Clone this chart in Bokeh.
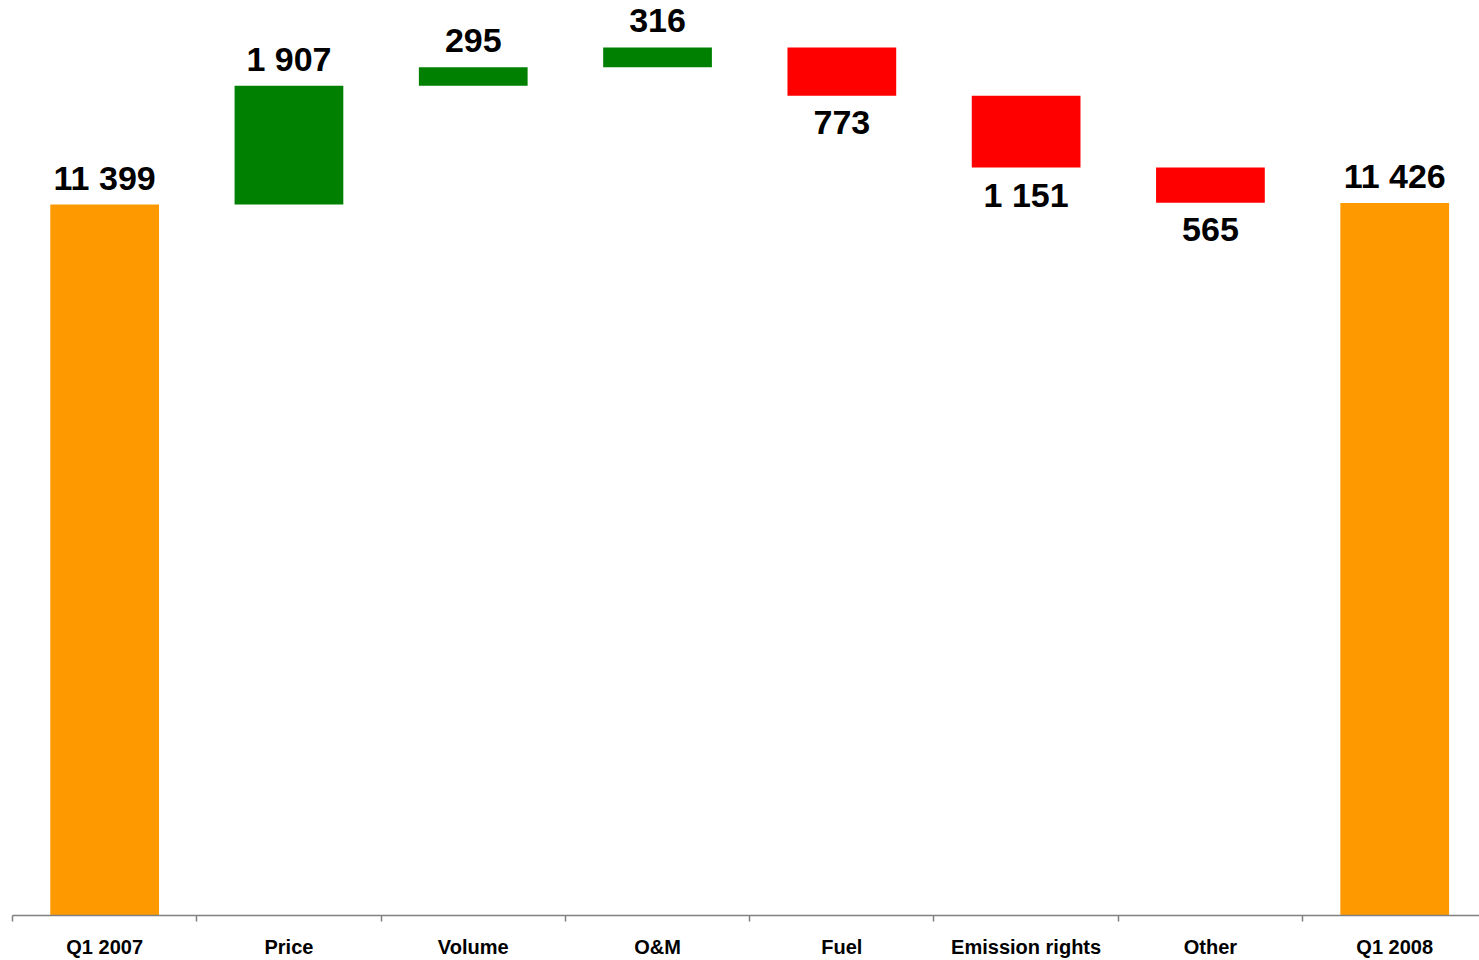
from bokeh.plotting import figure
from bokeh.models import ColumnDataSource, Range1d, FixedTicker
from bokeh.core.properties import value
from bokeh.embed import file_html
from bokeh.resources import INLINE

categories = ["Q1 2007", "Price", "Volume", "O&M", "Fuel", "Emission rights", "Other", "Q1 2008"]
changes = [11399, 1907, 295, 316, -773, -1151, -565, 11426]
kinds = ["total", "delta", "delta", "delta", "delta", "delta", "delta", "total"]
value_labels = ["11 399", "1 907", "295", "316", "773", "1 151", "565", "11 426"]

COL_TOTAL = "#FF9900"
COL_UP = "#008000"
COL_DOWN = "#FF0000"

xs, bottoms, tops, colors = [], [], [], []
pos_x, pos_y, pos_t = [], [], []
neg_x, neg_y, neg_t = [], [], []
running = 0
for i, (c, v, k, lab) in enumerate(zip(categories, changes, kinds, value_labels)):
    x = i + 0.5
    if k == "total":
        b, t = 0, v
        running = v
        col = COL_TOTAL
    else:
        b, t = running, running + v
        running = t
        col = COL_UP if v > 0 else COL_DOWN
    xs.append(x)
    bottoms.append(min(b, t))
    tops.append(max(b, t))
    colors.append(col)
    if k == "total" or v > 0:
        pos_x.append(x); pos_y.append(max(b, t)); pos_t.append(lab)
    else:
        neg_x.append(x); neg_y.append(min(b, t)); neg_t.append(lab)

src = ColumnDataSource(dict(x=xs, bottom=bottoms, top=tops, color=colors))

p = figure(width=1479, height=960, output_backend="svg", toolbar_location=None,
           x_range=Range1d(0, 7.96), y_range=Range1d(0, 14671),
           min_border_left=12, min_border_right=0, min_border_top=0, min_border_bottom=0,
           y_axis_location=None)
p.outline_line_color = None
p.xgrid.visible = False
p.ygrid.visible = False
p.background_fill_color = "white"
p.border_fill_color = "white"

p.vbar(x="x", bottom="bottom", top="top", width=0.59, color="color", line_color=None, source=src)

FONT = "Liberation Sans"
p.text(x=pos_x, y=pos_y, text=pos_t, text_align="center", text_baseline="alphabetic",
       y_offset=-27, text_font=value(FONT), text_font_style="bold",
       text_font_size="34px", text_color="black")
p.text(x=neg_x, y=neg_y, text=neg_t, text_align="center", text_baseline="alphabetic",
       y_offset=27, text_font=value(FONT), text_font_style="bold",
       text_font_size="34px", text_color="black")

ax = p.xaxis[0]
ax.ticker = FixedTicker(ticks=xs, minor_ticks=list(range(len(categories) + 1)))
ax.major_label_overrides = {x: c for x, c in zip(xs, categories)}
ax.axis_line_color = "#808080"
ax.axis_line_width = 1.5
ax.major_tick_line_color = None
ax.major_tick_out = 0
ax.major_tick_in = 0
ax.minor_tick_line_color = "#808080"
ax.minor_tick_line_width = 1.5
ax.minor_tick_out = 6
ax.minor_tick_in = 0
ax.major_label_standoff = 14
ax.major_label_text_font = FONT
ax.major_label_text_font_style = "bold"
ax.major_label_text_font_size = "20px"
ax.major_label_text_color = "black"

open("out.html", "w").write(file_html(p, INLINE))
